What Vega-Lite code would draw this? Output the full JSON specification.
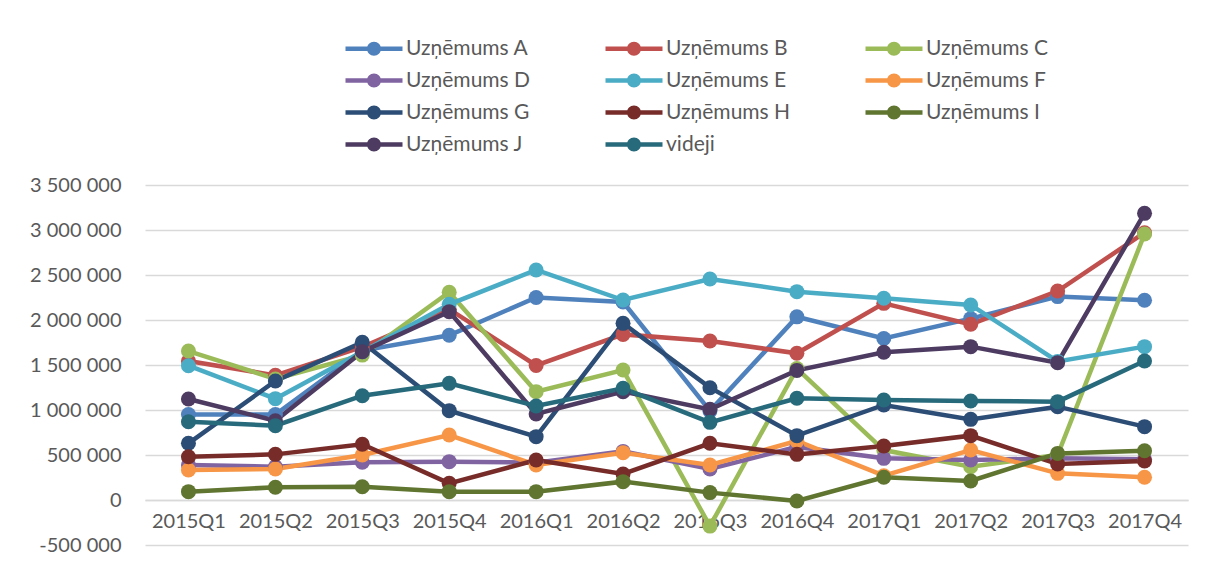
{
  "$schema": "https://vega.github.io/schema/vega-lite/v6.json",
  "width": 1043,
  "height": 360,
  "autosize": {"type": "none"},
  "padding": {"left": 145, "top": 185, "right": 18, "bottom": 23},
  "background": "white",
  "config": {
    "font": "Lato",
    "view": {"stroke": null},
    "axis": {"labelFont": "Lato", "labelColor": "#595959", "labelFontSize": 20, "ticks": false, "title": null},
    "legend": {"labelFont": "Lato", "labelColor": "#595959", "labelFontSize": 21}
  },
  "data": {
    "values": [
      {"q": "2015Q1", "s": "Uzņēmums A", "v": 950000},
      {"q": "2015Q2", "s": "Uzņēmums A", "v": 950000},
      {"q": "2015Q3", "s": "Uzņēmums A", "v": 1660000},
      {"q": "2015Q4", "s": "Uzņēmums A", "v": 1830000},
      {"q": "2016Q1", "s": "Uzņēmums A", "v": 2250000},
      {"q": "2016Q2", "s": "Uzņēmums A", "v": 2200000},
      {"q": "2016Q3", "s": "Uzņēmums A", "v": 990000},
      {"q": "2016Q4", "s": "Uzņēmums A", "v": 2035000},
      {"q": "2017Q1", "s": "Uzņēmums A", "v": 1795000},
      {"q": "2017Q2", "s": "Uzņēmums A", "v": 2015000},
      {"q": "2017Q3", "s": "Uzņēmums A", "v": 2260000},
      {"q": "2017Q4", "s": "Uzņēmums A", "v": 2220000},

      {"q": "2015Q1", "s": "Uzņēmums B", "v": 1545000},
      {"q": "2015Q2", "s": "Uzņēmums B", "v": 1385000},
      {"q": "2015Q3", "s": "Uzņēmums B", "v": 1700000},
      {"q": "2015Q4", "s": "Uzņēmums B", "v": 2120000},
      {"q": "2016Q1", "s": "Uzņēmums B", "v": 1495000},
      {"q": "2016Q2", "s": "Uzņēmums B", "v": 1840000},
      {"q": "2016Q3", "s": "Uzņēmums B", "v": 1767000},
      {"q": "2016Q4", "s": "Uzņēmums B", "v": 1630000},
      {"q": "2017Q1", "s": "Uzņēmums B", "v": 2185000},
      {"q": "2017Q2", "s": "Uzņēmums B", "v": 1952000},
      {"q": "2017Q3", "s": "Uzņēmums B", "v": 2322000},
      {"q": "2017Q4", "s": "Uzņēmums B", "v": 2970000},

      {"q": "2015Q1", "s": "Uzņēmums C", "v": 1655000},
      {"q": "2015Q2", "s": "Uzņēmums C", "v": 1345000},
      {"q": "2015Q3", "s": "Uzņēmums C", "v": 1610000},
      {"q": "2015Q4", "s": "Uzņēmums C", "v": 2308000},
      {"q": "2016Q1", "s": "Uzņēmums C", "v": 1204000},
      {"q": "2016Q2", "s": "Uzņēmums C", "v": 1444000},
      {"q": "2016Q3", "s": "Uzņēmums C", "v": -290000},
      {"q": "2016Q4", "s": "Uzņēmums C", "v": 1460000},
      {"q": "2017Q1", "s": "Uzņēmums C", "v": 555000},
      {"q": "2017Q2", "s": "Uzņēmums C", "v": 370000},
      {"q": "2017Q3", "s": "Uzņēmums C", "v": 500000},
      {"q": "2017Q4", "s": "Uzņēmums C", "v": 2955000},

      {"q": "2015Q1", "s": "Uzņēmums D", "v": 389000},
      {"q": "2015Q2", "s": "Uzņēmums D", "v": 370000},
      {"q": "2015Q3", "s": "Uzņēmums D", "v": 419000},
      {"q": "2015Q4", "s": "Uzņēmums D", "v": 426000},
      {"q": "2016Q1", "s": "Uzņēmums D", "v": 415000},
      {"q": "2016Q2", "s": "Uzņēmums D", "v": 540000},
      {"q": "2016Q3", "s": "Uzņēmums D", "v": 344000},
      {"q": "2016Q4", "s": "Uzņēmums D", "v": 590000},
      {"q": "2017Q1", "s": "Uzņēmums D", "v": 463000},
      {"q": "2017Q2", "s": "Uzņēmums D", "v": 444000},
      {"q": "2017Q3", "s": "Uzņēmums D", "v": 463000},
      {"q": "2017Q4", "s": "Uzņēmums D", "v": 452000},

      {"q": "2015Q1", "s": "Uzņēmums E", "v": 1492000},
      {"q": "2015Q2", "s": "Uzņēmums E", "v": 1126000},
      {"q": "2015Q3", "s": "Uzņēmums E", "v": 1648000},
      {"q": "2015Q4", "s": "Uzņēmums E", "v": 2174000},
      {"q": "2016Q1", "s": "Uzņēmums E", "v": 2556000},
      {"q": "2016Q2", "s": "Uzņēmums E", "v": 2222000},
      {"q": "2016Q3", "s": "Uzņēmums E", "v": 2456000},
      {"q": "2016Q4", "s": "Uzņēmums E", "v": 2315000},
      {"q": "2017Q1", "s": "Uzņēmums E", "v": 2241000},
      {"q": "2017Q2", "s": "Uzņēmums E", "v": 2167000},
      {"q": "2017Q3", "s": "Uzņēmums E", "v": 1540000},
      {"q": "2017Q4", "s": "Uzņēmums E", "v": 1704000},

      {"q": "2015Q1", "s": "Uzņēmums F", "v": 333000},
      {"q": "2015Q2", "s": "Uzņēmums F", "v": 344000},
      {"q": "2015Q3", "s": "Uzņēmums F", "v": 500000},
      {"q": "2015Q4", "s": "Uzņēmums F", "v": 722000},
      {"q": "2016Q1", "s": "Uzņēmums F", "v": 389000},
      {"q": "2016Q2", "s": "Uzņēmums F", "v": 526000},
      {"q": "2016Q3", "s": "Uzņēmums F", "v": 389000},
      {"q": "2016Q4", "s": "Uzņēmums F", "v": 656000},
      {"q": "2017Q1", "s": "Uzņēmums F", "v": 270000},
      {"q": "2017Q2", "s": "Uzņēmums F", "v": 555000},
      {"q": "2017Q3", "s": "Uzņēmums F", "v": 296000},
      {"q": "2017Q4", "s": "Uzņēmums F", "v": 252000},

      {"q": "2015Q1", "s": "Uzņēmums G", "v": 630000},
      {"q": "2015Q2", "s": "Uzņēmums G", "v": 1322000},
      {"q": "2015Q3", "s": "Uzņēmums G", "v": 1752000},
      {"q": "2015Q4", "s": "Uzņēmums G", "v": 993000},
      {"q": "2016Q1", "s": "Uzņēmums G", "v": 704000},
      {"q": "2016Q2", "s": "Uzņēmums G", "v": 1963000},
      {"q": "2016Q3", "s": "Uzņēmums G", "v": 1248000},
      {"q": "2016Q4", "s": "Uzņēmums G", "v": 715000},
      {"q": "2017Q1", "s": "Uzņēmums G", "v": 1056000},
      {"q": "2017Q2", "s": "Uzņēmums G", "v": 896000},
      {"q": "2017Q3", "s": "Uzņēmums G", "v": 1037000},
      {"q": "2017Q4", "s": "Uzņēmums G", "v": 815000},

      {"q": "2015Q1", "s": "Uzņēmums H", "v": 481000},
      {"q": "2015Q2", "s": "Uzņēmums H", "v": 507000},
      {"q": "2015Q3", "s": "Uzņēmums H", "v": 619000},
      {"q": "2015Q4", "s": "Uzņēmums H", "v": 185000},
      {"q": "2016Q1", "s": "Uzņēmums H", "v": 444000},
      {"q": "2016Q2", "s": "Uzņēmums H", "v": 289000},
      {"q": "2016Q3", "s": "Uzņēmums H", "v": 630000},
      {"q": "2016Q4", "s": "Uzņēmums H", "v": 507000},
      {"q": "2017Q1", "s": "Uzņēmums H", "v": 600000},
      {"q": "2017Q2", "s": "Uzņēmums H", "v": 715000},
      {"q": "2017Q3", "s": "Uzņēmums H", "v": 400000},
      {"q": "2017Q4", "s": "Uzņēmums H", "v": 433000},

      {"q": "2015Q1", "s": "Uzņēmums I", "v": 93000},
      {"q": "2015Q2", "s": "Uzņēmums I", "v": 141000},
      {"q": "2015Q3", "s": "Uzņēmums I", "v": 148000},
      {"q": "2015Q4", "s": "Uzņēmums I", "v": 93000},
      {"q": "2016Q1", "s": "Uzņēmums I", "v": 93000},
      {"q": "2016Q2", "s": "Uzņēmums I", "v": 204000},
      {"q": "2016Q3", "s": "Uzņēmums I", "v": 82000},
      {"q": "2016Q4", "s": "Uzņēmums I", "v": -11000},
      {"q": "2017Q1", "s": "Uzņēmums I", "v": 252000},
      {"q": "2017Q2", "s": "Uzņēmums I", "v": 211000},
      {"q": "2017Q3", "s": "Uzņēmums I", "v": 518000},
      {"q": "2017Q4", "s": "Uzņēmums I", "v": 548000},

      {"q": "2015Q1", "s": "Uzņēmums J", "v": 1122000},
      {"q": "2015Q2", "s": "Uzņēmums J", "v": 880000},
      {"q": "2015Q3", "s": "Uzņēmums J", "v": 1648000},
      {"q": "2015Q4", "s": "Uzņēmums J", "v": 2093000},
      {"q": "2016Q1", "s": "Uzņēmums J", "v": 956000},
      {"q": "2016Q2", "s": "Uzņēmums J", "v": 1204000},
      {"q": "2016Q3", "s": "Uzņēmums J", "v": 1007000},
      {"q": "2016Q4", "s": "Uzņēmums J", "v": 1440000},
      {"q": "2017Q1", "s": "Uzņēmums J", "v": 1641000},
      {"q": "2017Q2", "s": "Uzņēmums J", "v": 1704000},
      {"q": "2017Q3", "s": "Uzņēmums J", "v": 1526000},
      {"q": "2017Q4", "s": "Uzņēmums J", "v": 3185000},

      {"q": "2015Q1", "s": "videji", "v": 870000},
      {"q": "2015Q2", "s": "videji", "v": 826000},
      {"q": "2015Q3", "s": "videji", "v": 1159000},
      {"q": "2015Q4", "s": "videji", "v": 1296000},
      {"q": "2016Q1", "s": "videji", "v": 1044000},
      {"q": "2016Q2", "s": "videji", "v": 1241000},
      {"q": "2016Q3", "s": "videji", "v": 863000},
      {"q": "2016Q4", "s": "videji", "v": 1130000},
      {"q": "2017Q1", "s": "videji", "v": 1111000},
      {"q": "2017Q2", "s": "videji", "v": 1100000},
      {"q": "2017Q3", "s": "videji", "v": 1093000},
      {"q": "2017Q4", "s": "videji", "v": 1544000}
    ]
  },
  "encoding": {
    "x": {
      "field": "q",
      "type": "ordinal",
      "scale": {"type": "point", "padding": 0.5},
      "axis": {
        "orient": "bottom",
        "offset": -45,
        "labelAngle": 0,
        "labelPadding": 11,
        "domainColor": "#d9d9d9",
        "domainWidth": 1.5,
        "grid": false
      }
    },
    "y": {
      "field": "v",
      "type": "quantitative",
      "scale": {"domain": [-500000, 3500000], "nice": false, "zero": false},
      "axis": {
        "values": [-500000, 0, 500000, 1000000, 1500000, 2000000, 2500000, 3000000, 3500000],
        "labelExpr": "replace(replace(format(datum.value, ','), /,/g, ' '), '−', '-')",
        "labelPadding": 24,
        "domain": false,
        "grid": true,
        "gridColor": "#d9d9d9",
        "gridWidth": 1.5
      }
    },
    "color": {
      "field": "s",
      "type": "nominal",
      "scale": {
        "domain": ["Uzņēmums A", "Uzņēmums B", "Uzņēmums C", "Uzņēmums D", "Uzņēmums E", "Uzņēmums F", "Uzņēmums G", "Uzņēmums H", "Uzņēmums I", "Uzņēmums J", "videji"],
        "range": ["#4F81BD", "#C0504D", "#9BBB59", "#8064A2", "#4BACC6", "#F79646", "#2C4D75", "#772C2A", "#5F7530", "#4D3B62", "#276A7C"]
      },
      "legend": {
        "title": null,
        "orient": "none",
        "legendX": 200,
        "legendY": -147,
        "direction": "horizontal",
        "columns": 3,
        "gridAlign": "all",
        "columnPadding": 74,
        "rowPadding": 10,
        "padding": 0,
        "symbolType": "M-1,-0.225H4.7V0.225H-1Z M2.55,0A0.7,0.7,0,1,1,1.15,0A0.7,0.7,0,1,1,2.55,0Z",
        "symbolSize": 400,
        "symbolStrokeWidth": 0,
        "labelOffset": 40,
        "encode": {
          "symbols": {
            "update": {
              "fill": {"scale": "color", "field": "value"},
              "stroke": {"value": "transparent"},
              "opacity": {"value": 1}
            }
          }
        }
      }
    }
  },
  "layer": [
    {"mark": {"type": "line", "strokeWidth": 4.5}},
    {"mark": {"type": "point", "shape": "circle", "filled": true, "size": 225, "opacity": 1}}
  ]
}
